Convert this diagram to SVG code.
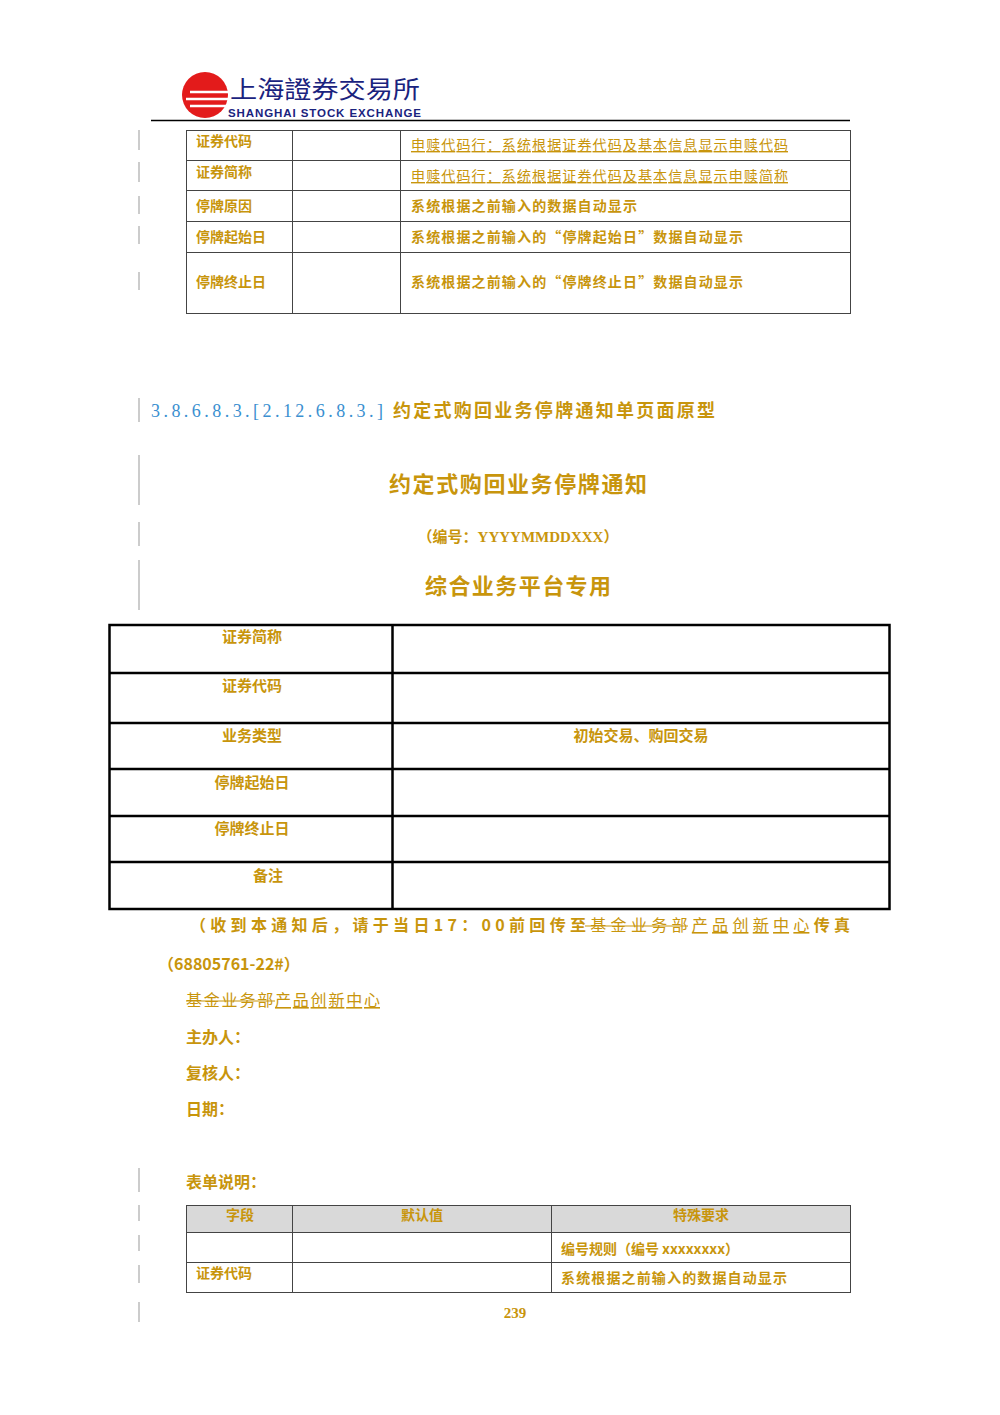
<svg xmlns="http://www.w3.org/2000/svg" width="1000" height="1415" viewBox="0 0 1000 1415">
<style>
.g{fill:#c8950c;font-family:"Noto Sans CJK SC","Liberation Sans",sans-serif;font-weight:bold}
.gs{fill:#c8950c;font-family:"Noto Sans CJK SC",serif}
.ul{fill:#c8950c;font-family:"Noto Sans CJK SC",serif;text-decoration:underline}
.c{stroke:#444;stroke-width:1;fill:none}
.t{stroke:#000;stroke-width:2.5;fill:none}
.m{stroke:#999;stroke-width:1}
.s{stroke:#c8950c;stroke-width:1.2}
</style>
<rect width="1000" height="1415" fill="#fff"/>
<g id="logo">
<circle cx="205" cy="95" r="23" fill="#e31b1b"/>
<path d="M190 92h40M186 99h44M190 106h40" stroke="#fff" stroke-width="2.5" fill="none"/>
<text x="230" y="98" font-family="Noto Sans CJK SC,serif" font-size="24" fill="#1a237e" textLength="190" lengthAdjust="spacingAndGlyphs">上海證券交易所</text>
<text x="228" y="117" font-family="Liberation Sans,sans-serif" font-size="11.5" font-weight="bold" fill="#1a237e" textLength="193" lengthAdjust="spacing">SHANGHAI  STOCK  EXCHANGE</text>
<line x1="151" y1="120.5" x2="850" y2="120.5" stroke="#000" stroke-width="1.5"/>
</g>
<g id="margin">
<path class="m" d="M139 130v20M139 162v20M139 196v18M139 226v18M139 272v18M139 398v24M139 455v50M139 522v24M139 560v50M139 1168v24M139 1205v16M139 1235v16M139 1265v18M139 1302v20"/>
</g>
<g id="table1">
<rect class="c" x="186.5" y="130.5" width="664" height="183"/>
<path class="c" d="M292.5 130v183M400.5 130v183M186 160.5h664M186 190.5h664M186 221.5h664M186 252.5h664"/>
<g font-size="14"><text class="g" x="196" y="146">证券代码</text><text class="g" x="196" y="177">证券简称</text><text class="g" x="196" y="211">停牌原因</text><text class="g" x="196" y="242">停牌起始日</text><text class="g" x="196" y="287">停牌终止日</text>
<text class="ul" x="411" y="150" textLength="377">申赎代码行：系统根据证券代码及基本信息显示申赎代码</text>
<text class="ul" x="411" y="181" textLength="377">申赎代码行：系统根据证券代码及基本信息显示申赎简称</text>
<text class="g" x="411" y="211" textLength="226">系统根据之前输入的数据自动显示</text>
<text class="g" x="411" y="242" textLength="332">系统根据之前输入的“停牌起始日”数据自动显示</text>
<text class="g" x="411" y="287" textLength="332">系统根据之前输入的“停牌终止日”数据自动显示</text></g>
</g>
<text x="151" y="417" font-size="18" font-family="Liberation Serif,serif" fill="#3a8fd0" textLength="232" lengthAdjust="spacing">3.8.6.8.3.[2.12.6.8.3.]</text>
<text class="g" x="393" y="417" font-size="18" textLength="322">约定式购回业务停牌通知单页面原型</text>
<text class="g" x="518" y="492" font-size="22" text-anchor="middle" textLength="258">约定式购回业务停牌通知</text>
<text x="518" y="542" font-size="15" text-anchor="middle" fill="#c8950c" font-weight="bold" font-family="Liberation Serif,Noto Sans CJK SC,serif">（编号：YYYYMMDDXXX）</text>
<text class="g" x="518" y="594" font-size="22" text-anchor="middle" textLength="186">综合业务平台专用</text>
<g id="table2">
<rect class="t" x="109.5" y="625" width="780" height="284"/>
<path class="t" d="M392.5 625v284M109 673h780M109 723h780M109 769h780M109 816h780M109 862h780"/>
<g font-size="15"><text class="g" x="252" y="642" text-anchor="middle">证券简称</text>
<text class="g" x="252" y="691" text-anchor="middle">证券代码</text>
<text class="g" x="252" y="741" text-anchor="middle">业务类型</text>
<text class="g" x="252" y="788" text-anchor="middle">停牌起始日</text>
<text class="g" x="252" y="834" text-anchor="middle">停牌终止日</text>
<text class="g" x="268" y="881" text-anchor="middle">备注</text>
<text class="g" x="641" y="741" text-anchor="middle">初始交易、购回交易</text></g>
</g>
<g font-size="16">
<text class="g" x="190" y="931" textLength="660" lengthAdjust="spacing">（收到本通知后，请于当日17：00前回传至<tspan class="gs" font-weight="normal">基金业务部</tspan><tspan font-weight="normal" text-decoration="underline">产品创新中心</tspan>传真</text>
<line class="s" x1="585" y1="926" x2="688" y2="926"/>
<text class="g" x="158" y="970">（68805761-22#）</text>
<text class="gs" x="186" y="1006" textLength="194">基金业务部<tspan text-decoration="underline">产品创新中心</tspan></text>
<line class="s" x1="186" y1="1001" x2="275" y2="1001"/>
<text class="g" x="186" y="1043">主办人：</text>
<text class="g" x="186" y="1079">复核人：</text>
<text class="g" x="186" y="1115">日期：</text>
<text class="g" x="186" y="1188">表单说明：</text>
</g>
<g id="table3">
<rect x="186.5" y="1205.5" width="664" height="27" fill="#d9d9d9"/>
<rect class="c" x="186.5" y="1205.5" width="664" height="87"/>
<path class="c" d="M292.5 1205v87M551.5 1205v87M186 1232.5h664M186 1262.5h664"/>
<g font-size="14"><text class="g" x="240" y="1220" text-anchor="middle">字段</text>
<text class="g" x="422" y="1220" text-anchor="middle">默认值</text>
<text class="g" x="701" y="1220" text-anchor="middle">特殊要求</text>
<text class="g" x="561" y="1254" textLength="178">编号规则（编号 xxxxxxxx）</text>
<text class="g" x="196" y="1278">证券代码</text>
<text class="g" x="561" y="1283" textLength="226">系统根据之前输入的数据自动显示</text></g>
</g>
<text x="515" y="1318" font-size="15" font-family="Liberation Serif,serif" font-weight="bold" fill="#c8950c" text-anchor="middle">239</text>
</svg>
